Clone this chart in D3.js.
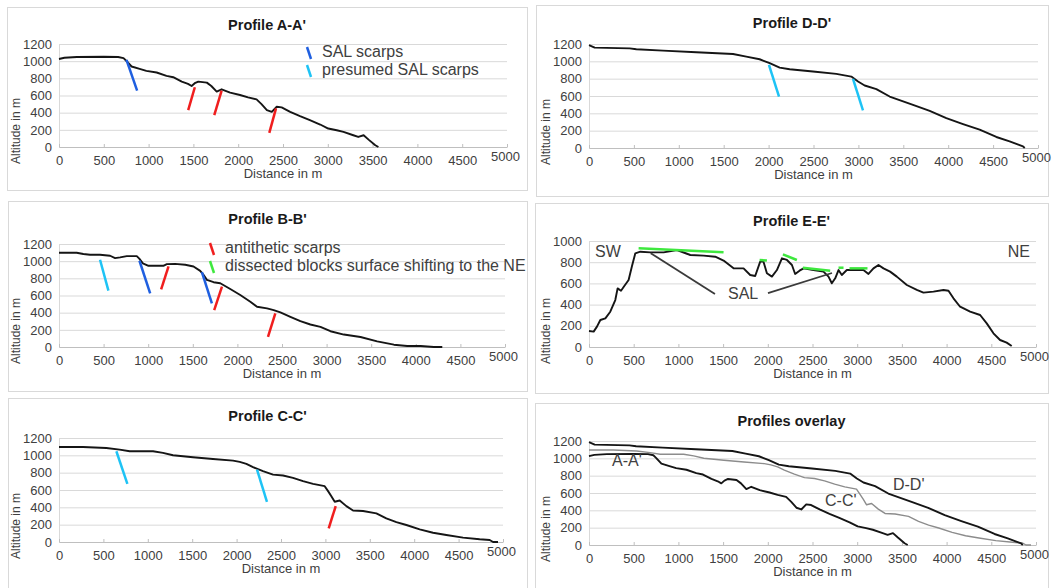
<!DOCTYPE html>
<html lang="en">
<head>
<meta charset="UTF-8">
<title>Topographic profiles</title>
<script src="https://cdn.jsdelivr.net/npm/d3@7"></script>
<style>
    body { margin: 0; background: #fff; }
    svg { font-family: "Liberation Sans", Arial, sans-serif; }
    .tick text { fill: #404040; font-size: 13px; }
    .grid line { stroke: #d9d9d9; stroke-width: 1px; }
    .grid path { display: none; }
    .yaxis path { stroke: #d9d9d9; }
    .xaxis path { stroke: #bfbfbf; }
    .xaxis line { stroke: #bfbfbf; }
    .panel_title { font-size: 14.5px; font-weight: bold; fill: #1a1a1a; }
    .axis_title { font-size: 13px; fill: #404040; }
    .note { font-size: 16px; fill: #404040; }
</style>
</head>
<body>
<svg width="1052" height="588"></svg>
<script>

    // ---- values (distance in m, altitude in m) ----
    const xTicks = d3.range(0, 5001, 500);
    const yTicks1200 = [0, 200, 400, 600, 800, 1000, 1200];
    const yTicks1000 = [0, 200, 400, 600, 800, 1000];

    const profileA = [[0,1025],[60,1040],[200,1048],[500,1052],[660,1048],[720,1035],[750,1005],[810,938],
        [900,910],[975,887],[1090,868],[1200,829],[1275,813],[1370,762],[1440,735],[1480,711],[1515,743],
        [1555,762],[1650,750],[1700,711],[1760,645],[1815,672],[1910,633],[2020,606],[2110,578],[2205,555],
        [2260,500],[2320,430],[2375,410],[2430,469],[2485,461],[2580,410],[2690,360],[2800,313],[2915,262],
        [3005,215],[3100,195],[3175,176],[3285,137],[3340,117],[3400,137],[3455,86],[3530,20],[3565,0]];

    const profileB = [[0,1098],[198,1098],[273,1083],[348,1075],[460,1075],[573,1063],[629,1036],[685,1044],
        [760,1059],[872,1059],[900,1030],[940,975],[1003,946],[1170,946],[1209,966],[1300,968],[1415,958],
        [1508,938],[1583,887],[1620,840],[1658,782],[1733,755],[1808,743],[1920,676],[2032,606],[2145,528],
        [2220,469],[2332,450],[2407,430],[2482,403],[2594,352],[2706,301],[2818,262],[2931,235],[3043,184],
        [3193,145],[3380,117],[3567,66],[3754,27],[3904,12],[4054,12],[4203,0],[4297,0]];

    const profileC = [[0,1097],[270,1097],[533,1085],[683,1066],[796,1047],[1059,1047],[1171,1028],[1284,1001],
        [1509,978],[1734,958],[1960,939],[2035,924],[2110,901],[2185,863],[2297,817],[2410,778],[2523,767],
        [2635,740],[2748,702],[2861,671],[2992,644],[3030,587],[3067,529],[3105,464],[3161,479],[3236,414],
        [3311,364],[3424,357],[3574,330],[3686,272],[3799,230],[3912,196],[4062,146],[4212,107],[4362,81],
        [4550,50],[4737,31],[4850,23],[4888,0],[4944,0]];

    const profileD = [[0,1188],[63,1158],[453,1150],[527,1139],[824,1123],[1195,1104],[1604,1085],[1752,1054],
        [1900,1024],[2012,978],[2123,928],[2235,909],[2494,882],[2754,855],[2921,824],[2996,767],[3070,721],
        [3200,679],[3348,594],[3608,498],[3794,429],[3979,345],[4165,276],[4350,211],[4536,127],[4684,77],
        [4833,19],[4852,0]];

    const profileE = [[0,151],[52,145],[89,192],[127,255],[183,270],[238,333],[294,443],[320,553],[358,531],
        [395,575],[443,632],[481,764],[518,884],[574,899],[686,893],[835,893],[984,915],[1133,868],[1282,862],
        [1412,852],[1505,815],[1617,742],[1729,742],[1803,679],[1859,670],[1915,805],[1952,805],[1990,695],
        [2046,664],[2102,726],[2158,837],[2214,821],[2270,774],[2306,689],[2355,720],[2400,742],[2511,726],
        [2623,711],[2679,664],[2716,601],[2754,648],[2791,726],[2828,679],[2884,726],[2996,726],[3070,726],
        [3126,689],[3182,742],[3238,774],[3294,742],[3368,711],[3443,664],[3555,585],[3667,538],[3741,513],
        [3853,522],[3965,538],[4021,531],[4077,459],[4151,380],[4263,333],[4375,302],[4449,223],[4524,129],
        [4598,66],[4672,41],[4728,9]];

    // scarps: [kind, [start], [end]]
    const scarpsA = [["sal",[753,1016],[872,657]], ["anti",[1442,430],[1516,696]],
        ["anti",[1733,371],[1815,657]], ["anti",[2347,164],[2422,450]]];
    const scarpsB = [["presumed",[460,1016],[554,657]], ["sal",[902,1005],[1022,625]],
        ["anti",[1145,672],[1228,938]], ["sal",[1602,872],[1714,508]],
        ["anti",[1740,430],[1827,703]], ["anti",[2343,117],[2425,391]]];
    const scarpsC = [["presumed",[646,1047],[770,671]], ["presumed",[2230,836],[2342,464]],
        ["anti",[3037,157],[3116,414]]];
    const scarpsD = [["presumed",[2004,958],[2116,594]], ["presumed",[2940,797],[3051,433]]];
    const blockSurfacesE = [["block",[555,931],[1505,893]], ["block",[1908,821],[1990,815]],
        ["block",[2169,874],[2325,821]], ["block",[2392,748],[2698,720]],
        ["block",[2791,748],[2847,748]], ["block",[2914,742],[3115,742]]];
    const salPointersE = [["pointer",[1409,500],[690,885]], ["pointer",[2002,509],[2718,698]]];

    // labels placed in data units: [text, distance, altitude, anchor]
    const labelsE = [["SW",67,887,"start"], ["NE",4933,887,"end"], ["SAL",1555,490,"start"]];
    const labelsOverlay = [["A-A'",257,958,"start"], ["C-C'",2640,496,"start"], ["D-D'",3400,681,"start"]];

    const legendA = [["sal","SAL scarps"], ["presumed","presumed SAL scarps"]];
    const legendB = [["anti","antithetic scarps"], ["block","dissected blocks surface shifting to the NE"]];

    const kindColor = {sal: "#1f5fe0", presumed: "#1ec3f5", anti: "#f01e1e", block: "#3ee83e", pointer: "#3a3a3a"};
    const kindWidth = {sal: 2.5, presumed: 2.5, anti: 2.5, block: 2.5, pointer: 1.8};

    // ---- layout: frame box [x,y,w,h] and plot [left,right,top,bottom] in px ----
    const panels = [
        {title: "Profile A-A'", box: [7,7,520,183], plot: [59,507,44,147], yMax: 1200, yTicks: yTicks1200,
            lines: [{data: profileA}], segs: scarpsA, legend: legendA, legendPos: [307,53]},
        {title: "Profile D-D'", box: [536,5,512,191], plot: [589,1038,44,148], yMax: 1200, yTicks: yTicks1200,
            lines: [{data: profileD}], segs: scarpsD},
        {title: "Profile B-B'", box: [8,201,519,190], plot: [59,505,244,347], yMax: 1200, yTicks: yTicks1200,
            lines: [{data: profileB}], segs: scarpsB, legend: legendB, legendPos: [210,249]},
        {title: "Profile E-E'", box: [535,203,513,190], plot: [589,1036,241,347], yMax: 1000, yTicks: yTicks1000,
            lines: [{data: profileE}], segs: blockSurfacesE.concat(salPointersE), labels: labelsE},
        {title: "Profile C-C'", box: [8,398,519,192], plot: [59,503,438,542], yMax: 1200, yTicks: yTicks1200,
            lines: [{data: profileC}], segs: scarpsC},
        {title: "Profiles overlay", box: [535,403,513,187], plot: [589,1036,441,545], yMax: 1200, yTicks: yTicks1200,
            lines: [{data: profileC, color: "#8c8c8c", width: 1.4}, {data: profileA}, {data: profileD}],
            segs: [], labels: labelsOverlay}
    ];

    const svg = d3.select("svg");
    const fmt = d3.format("d");

    function drawPanel(p) {
        const g = svg.append("g");
        const [left, right, top, bottom] = p.plot;

        g.append("rect")
            .attr("x", p.box[0] + 0.5).attr("y", p.box[1] + 0.5)
            .attr("width", p.box[2]).attr("height", p.box[3])
            .attr("fill", "#fff").attr("stroke", "#d9d9d9");

        const x = d3.scaleLinear().domain([0, 5000]).range([left, right]);
        const y = d3.scaleLinear().domain([0, p.yMax]).range([bottom, top]);

        g.append("g").attr("class", "grid")
            .attr("transform", `translate(${left},0)`)
            .call(d3.axisLeft(y).tickValues(p.yTicks).tickSize(-(right - left)).tickFormat(""));

        g.append("g").attr("class", "yaxis")
            .attr("transform", `translate(${left},0)`)
            .call(d3.axisLeft(y).tickValues(p.yTicks).tickFormat(fmt).tickSize(0).tickPadding(7))
            .call(a => a.selectAll(".tick line").remove());

        const xa = g.append("g").attr("class", "xaxis")
            .attr("transform", `translate(0,${bottom})`)
            .call(d3.axisBottom(x).tickValues(xTicks).tickFormat(fmt)
                .tickSizeInner(-3).tickSizeOuter(0).tickPadding(9));
        // the last label sits a little higher, as in the source
        xa.selectAll(".tick text").filter(d => d === 5000).attr("y", 5).attr("dx", -2);

        g.append("text").attr("class", "panel_title")
            .attr("x", p.box[0] + p.box[2] / 2).attr("y", p.box[1] + 19)
            .attr("text-anchor", "middle").attr("dominant-baseline", "middle")
            .text(p.title);

        g.append("text").attr("class", "axis_title")
            .attr("x", (left + right) / 2).attr("y", bottom + 28)
            .attr("text-anchor", "middle").attr("dominant-baseline", "middle")
            .text("Distance in m");

        g.append("text").attr("class", "axis_title")
            .attr("transform", `translate(${left - 42},${bottom - 16})rotate(-90)`)
            .attr("text-anchor", "middle").attr("dominant-baseline", "middle")
            .style("font-size", "12px")
            .text("Altitude in m");

        const line = d3.line().x(d => x(d[0])).y(d => y(d[1]));

        g.append("g").selectAll("path")
            .data(p.lines).enter().append("path")
            .attr("d", d => line(d.data))
            .attr("fill", "none")
            .attr("stroke", d => d.color || "#151515")
            .attr("stroke-width", d => d.width || 1.9)
            .attr("stroke-linejoin", "round");

        g.append("g").selectAll("line")
            .data(p.segs).enter().append("line")
            .attr("x1", d => x(d[1][0])).attr("y1", d => y(d[1][1]))
            .attr("x2", d => x(d[2][0])).attr("y2", d => y(d[2][1]))
            .attr("stroke", d => kindColor[d[0]])
            .attr("stroke-width", d => kindWidth[d[0]]);

        if (p.labels) {
            g.append("g").selectAll("text")
                .data(p.labels).enter().append("text")
                .attr("class", "note")
                .attr("x", d => x(d[1])).attr("y", d => y(d[2]))
                .attr("text-anchor", d => d[3])
                .attr("dominant-baseline", "middle")
                .text(d => d[0]);
        }

        if (p.legend) {
            const lg = g.append("g").selectAll("g")
                .data(p.legend).enter().append("g")
                .attr("transform", (d, i) => `translate(${p.legendPos[0]},${p.legendPos[1] + i * 18})`);
            lg.append("line")
                .attr("x1", 0).attr("y1", -6).attr("x2", 4).attr("y2", 6)
                .attr("stroke", d => kindColor[d[0]]).attr("stroke-width", 2.5);
            lg.append("text").attr("class", "note")
                .attr("x", 15).attr("y", 0)
                .attr("dominant-baseline", "middle")
                .text(d => d[1]);
        }
    }

    panels.forEach(drawPanel);

</script>
</body>
</html>
